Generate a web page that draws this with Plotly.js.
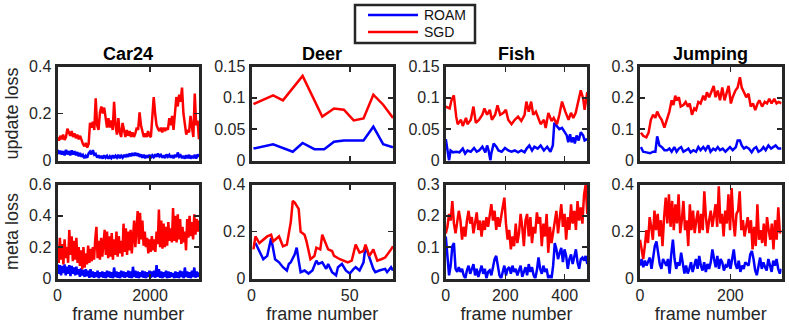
<!DOCTYPE html>
<html>
<head>
<meta charset="utf-8">
<script src="https://cdn.plot.ly/plotly-3.0.1.min.js"></script>
<style>
  html, body { margin: 0; padding: 0; background: #fff; }
  #chart { width: 789px; height: 329px; }
</style>
</head>
<body>
<div id="chart"></div>
<script>
const W = 789
const H = 329

const SEQUENCES = ['Car24', 'Deer', 'Fish', 'Jumping']
const LAST_FRAME = [3059, 72, 476, 313]
const FRAME_TICKS = [[0, 2000], [0, 50], [0, 200, 400], [0, 200]]
const UPDATE_MAX = [0.4, 0.15, 0.15, 0.3]
const UPDATE_STEP = [0.2, 0.05, 0.05, 0.1]
const META_MAX = [0.6, 0.4, 0.3, 0.4]
const META_STEP = [0.2, 0.2, 0.1, 0.2]
const METHODS = ['ROAM', 'SGD']
const METHOD_COLORS = ['#0000ff', '#ff0000']

// Car24 (sampled evenly over the sequence)
const car24UpdateRoam = [0.045, 0.028, 0.042, 0.025, 0.04, 0.022, 0.045, 0.026, 0.04, 0.022, 0.043, 0.025, 0.04, 0.022, 0.036, 0.018, 0.032, 0.016, 0.024, 0.01,
  0.02, 0.012, 0.03, 0.038, 0.026, 0.044, 0.024, 0.028, 0.012, 0.022, 0.01, 0.02, 0.008, 0.022, 0.012, 0.02, 0.008, 0.018, 0.01, 0.022,
  0.01, 0.02, 0.012, 0.024, 0.01, 0.02, 0.012, 0.024, 0.014, 0.026, 0.016, 0.03, 0.018, 0.032, 0.02, 0.033, 0.02, 0.03, 0.016, 0.026,
  0.012, 0.024, 0.01, 0.022, 0.012, 0.024, 0.01, 0.022, 0.014, 0.026, 0.016, 0.03, 0.018, 0.024, 0.012, 0.022, 0.01, 0.026, 0.016, 0.024,
  0.012, 0.022, 0.01, 0.024, 0.014, 0.034, 0.016, 0.022, 0.01, 0.02, 0.008, 0.022, 0.01, 0.024, 0.008, 0.02, 0.01, 0.024, 0.008, 0.026, 0.015]
const car24UpdateSgd = [0.098, 0.085, 0.105, 0.09, 0.11, 0.088, 0.10, 0.135, 0.12, 0.105, 0.125, 0.10, 0.115, 0.095, 0.11, 0.09, 0.105, 0.085, 0.07, 0.06,
  0.075, 0.055, 0.07, 0.16, 0.14, 0.165, 0.13, 0.265, 0.15, 0.13, 0.205, 0.23, 0.2, 0.225, 0.19, 0.14, 0.18, 0.14, 0.17, 0.13,
  0.25, 0.15, 0.11, 0.18, 0.12, 0.1, 0.16, 0.12, 0.1, 0.13, 0.105, 0.125, 0.1, 0.12, 0.1, 0.115, 0.14, 0.13, 0.205, 0.15,
  0.12, 0.1, 0.115, 0.1, 0.125, 0.105, 0.1, 0.2, 0.27, 0.2, 0.15, 0.135, 0.125, 0.14, 0.12, 0.14, 0.125, 0.14, 0.13, 0.18,
  0.15, 0.19, 0.13, 0.2, 0.27, 0.23, 0.28, 0.25, 0.31, 0.2, 0.14, 0.11, 0.13, 0.12, 0.19, 0.14, 0.1, 0.285, 0.15, 0.17, 0.09]
const car24MetaRoam = [0.09, 0.03, 0.085, 0.02, 0.08, 0.035, 0.09, 0.02, 0.075, 0.03, 0.085, 0.015, 0.08, 0.03, 0.07, 0.02, 0.075, 0.025, 0.06, 0.01,
  0.065, 0.02, 0.055, 0.01, 0.06, 0.015, 0.05, 0.005, 0.06, 0.01, 0.045, 0.005, 0.04, 0.01, 0.05, 0.0, 0.04, 0.01, 0.045, 0.005,
  0.04, 0.0, 0.05, 0.01, 0.045, 0.005, 0.04, 0.0, 0.07, 0.01, 0.045, 0.005, 0.04, 0.0, 0.05, 0.01, 0.045, 0.005, 0.04, 0.01,
  0.05, 0.005, 0.045, 0.0, 0.075, 0.01, 0.05, 0.005, 0.045, 0.0, 0.04, 0.01, 0.05, 0.005, 0.045, 0.0, 0.04, 0.01, 0.05, 0.005,
  0.045, 0.01, 0.05, 0.005, 0.085, 0.01, 0.06, 0.005, 0.045, 0.0, 0.04, 0.01, 0.05, 0.0, 0.045, 0.005, 0.04, 0.01, 0.035, 0.0,
  0.045, 0.005, 0.04, 0.0, 0.05, 0.01, 0.045, 0.0, 0.07, 0.01, 0.045, 0.005, 0.04, 0.0, 0.05, 0.01, 0.07, 0.005, 0.045, 0.01, 0.04]
const car24MetaSgd = [0.2, 0.1, 0.26, 0.12, 0.22, 0.09, 0.25, 0.13, 0.2, 0.1, 0.31, 0.15, 0.27, 0.11, 0.24, 0.12, 0.26, 0.1, 0.2, 0.08,
  0.18, 0.06, 0.2, 0.07, 0.16, 0.09, 0.21, 0.1, 0.19, 0.11, 0.2, 0.12, 0.25, 0.33, 0.13, 0.24, 0.12, 0.26, 0.14, 0.22,
  0.31, 0.15, 0.3, 0.13, 0.27, 0.14, 0.29, 0.12, 0.25, 0.15, 0.3, 0.14, 0.27, 0.16, 0.24, 0.14, 0.35, 0.17, 0.32, 0.15,
  0.3, 0.18, 0.31, 0.16, 0.28, 0.37, 0.2, 0.33, 0.43, 0.22, 0.42, 0.25, 0.37, 0.21, 0.3, 0.2, 0.26, 0.16, 0.25, 0.17,
  0.27, 0.18, 0.25, 0.17, 0.3, 0.22, 0.44, 0.2, 0.37, 0.19, 0.35, 0.2, 0.33, 0.21, 0.36, 0.24, 0.32, 0.23, 0.45, 0.24,
  0.4, 0.23, 0.41, 0.25, 0.38, 0.22, 0.33, 0.23, 0.3, 0.18, 0.38, 0.26, 0.4, 0.27, 0.36, 0.25, 0.41, 0.28, 0.38, 0.3, 0.37]

// Deer (short sequence, values every few frames)
const deerUpdateRoamFrames = [1, 11, 21, 26, 32, 37, 42, 47, 57, 62, 67, 72]
const deerUpdateRoam = [0.019, 0.026, 0.014, 0.028, 0.018, 0.018, 0.030, 0.032, 0.032, 0.054, 0.026, 0.021]
const deerUpdateSgdFrames = [1, 11, 16, 26, 36, 42, 47, 52, 57, 62, 67, 72]
const deerUpdateSgd = [0.090, 0.104, 0.096, 0.135, 0.070, 0.083, 0.081, 0.064, 0.067, 0.105, 0.089, 0.068]
const deerMetaRoamFrames = [2, 6, 8, 10, 12, 14, 16, 18, 19, 20, 22, 23, 24, 25, 27, 29, 31, 33, 34, 36,
  38, 39, 41, 43, 44, 46, 48, 50, 52, 53, 55, 57, 58, 60, 62, 63, 65, 68, 69, 71, 72]
const deerMetaRoam = [0.151, 0.082, 0.096, 0.172, 0.082, 0.069, 0.048, 0.034, 0.062, 0.069, 0.103, 0.131, 0.076, 0.027, 0.034, 0.021, 0.034, 0.076, 0.062, 0.069,
  0.041, 0.062, 0.027, 0.014, 0.048, 0.062, 0.034, 0.021, 0.041, 0.048, 0.034, 0.069, 0.137, 0.089, 0.041, 0.027, 0.034, 0.041, 0.027, 0.048, 0.034]
const deerMetaSgdFrames = [1, 2, 4, 7, 8, 10, 11, 12, 14, 16, 18, 20, 21, 22, 24, 25, 27, 28, 30, 32,
  33, 35, 36, 37, 39, 41, 42, 45, 47, 49, 51, 53, 55, 57, 58, 60, 62, 64, 66, 68, 71, 72]
const deerMetaSgd = [0.124, 0.179, 0.151, 0.172, 0.179, 0.186, 0.158, 0.165, 0.179, 0.137, 0.144, 0.241, 0.330, 0.323, 0.296, 0.199, 0.186, 0.158, 0.082, 0.096,
  0.131, 0.124, 0.186, 0.165, 0.124, 0.117, 0.096, 0.082, 0.076, 0.069, 0.076, 0.144, 0.110, 0.117, 0.144, 0.096, 0.124, 0.076, 0.082, 0.089, 0.124, 0.137]

// Fish
const fishUpdateRoamFrames = [0, 5, 11, 16, 24, 35, 46, 57, 65, 73, 84, 95, 104, 112, 123, 133, 139, 144, 150, 153,
  161, 170, 177, 188, 199, 210, 221, 232, 243, 254, 265, 272, 281, 290, 298, 309, 319, 330, 341, 352,
  360, 365, 374, 382, 391, 399, 407, 412, 418, 423, 429, 434, 440, 447, 454, 462, 467, 476]
const fishUpdateRoam = [0.034, 0.019, 0, 0.016, 0.013, 0.014, 0.013, 0.019, 0.011, 0.016, 0.014, 0.020, 0.014, 0.016, 0.022, 0.013, 0.024, 0.016, 0, 0.011,
  0.027, 0.022, 0.016, 0.014, 0.020, 0.016, 0.014, 0.016, 0.013, 0.016, 0.013, 0.019, 0.024, 0.016, 0.022, 0.019, 0.024, 0.016, 0.022, 0.014,
  0.024, 0.060, 0.055, 0.050, 0.052, 0.045, 0.040, 0.029, 0.042, 0.029, 0.037, 0.027, 0.040, 0.032, 0.045, 0.040, 0.032, 0.034]
const fishUpdateSgdFrames = [0, 13, 19, 27, 35, 40, 51, 57, 68, 73, 84, 93, 101, 112, 123, 130, 139, 148, 155, 166,
  174, 183, 194, 202, 210, 221, 232, 243, 254, 265, 271, 279, 287, 294, 303, 312, 319, 330, 336, 345,
  356, 363, 374, 382, 391, 402, 413, 421, 429, 437, 446, 454, 462, 467, 476]
const fishUpdateSgd = [0.086, 0.083, 0.096, 0.104, 0.070, 0.058, 0.065, 0.055, 0.068, 0.058, 0.065, 0.086, 0.060, 0.065, 0.073, 0.083, 0.073, 0.081, 0.065, 0.073,
  0.088, 0.073, 0.076, 0.081, 0.065, 0.058, 0.065, 0.070, 0.063, 0.073, 0.094, 0.078, 0.094, 0.073, 0.078, 0.065, 0.058, 0.065, 0.052, 0.076,
  0.063, 0.068, 0.058, 0.073, 0.094, 0.078, 0.065, 0.076, 0.068, 0.076, 0.094, 0.112, 0.099, 0.081, 0.109]
const fishMetaRoam = [0.134, 0.082, 0.010, 0.041, 0.103, 0.113, 0.031, 0.021, 0.036, 0.021, 0.031, 0.010, 0, 0.026, 0.041, 0.015, 0.031, 0.046, 0.010, 0.031,
  0.005, 0.021, 0.041, 0.015, 0.031, 0, 0.021, 0.026, 0.010, 0.036, 0.062, 0.072, 0.041, 0.010, 0, 0.026, 0.041, 0.010, 0.031, 0.036,
  0.015, 0.041, 0.021, 0.031, 0.010, 0.026, 0.041, 0.005, 0.021, 0.036, 0.010, 0.046, 0.021, 0.036, 0.010, 0, 0.026, 0.067, 0.031, 0.015,
  0.041, 0.021, 0.031, 0, 0.010, 0, 0.041, 0.113, 0.093, 0.062, 0.082, 0.098, 0.052, 0.093, 0.072, 0.031, 0.062, 0.077, 0.046, 0.072,
  0.093, 0.052, 0.031, 0.062, 0.067, 0.057, 0.072, 0.046]
const fishMetaSgd = [0.144, 0.165, 0.206, 0.185, 0.247, 0.175, 0.144, 0.175, 0.216, 0.185, 0.124, 0.165, 0.134, 0.185, 0.216, 0.175, 0.196, 0.144, 0.175, 0.211,
  0.155, 0.185, 0.134, 0.185, 0.155, 0.196, 0.165, 0.206, 0.237, 0.185, 0.216, 0.155, 0.196, 0.165, 0.196, 0.227, 0.258, 0.175, 0.124, 0.155,
  0.093, 0.134, 0.103, 0.175, 0.113, 0.144, 0.206, 0.165, 0.103, 0.185, 0.206, 0.134, 0.196, 0.113, 0.165, 0.144, 0.211, 0.175, 0.196, 0.103,
  0.175, 0.134, 0.206, 0.082, 0.165, 0.113, 0.144, 0.185, 0.216, 0.144, 0.185, 0.237, 0.165, 0.206, 0.124, 0.196, 0.155, 0.237, 0.175, 0.216,
  0.155, 0.247, 0.185, 0.227, 0.175, 0.268, 0.299, 0.206]

// Jumping
const jumpingUpdateRoamFrames = [2, 7, 14, 22, 29, 34, 38, 43, 48, 54, 60, 65, 70, 76, 81, 86, 91, 96, 102, 107,
  112, 118, 124, 129, 134, 140, 145, 151, 156, 162, 167, 172, 177, 183, 189, 194, 199, 205, 212, 216,
  221, 225, 230, 235, 241, 247, 252, 257, 262, 268, 273, 278, 284, 290, 295, 300, 306, 313]
const jumpingUpdateRoam = [0.043, 0.028, 0.026, 0.023, 0.028, 0.028, 0.077, 0.048, 0.043, 0.033, 0.033, 0.038, 0.028, 0.043, 0.028, 0.038, 0.043, 0.028, 0.033, 0.038,
  0.026, 0.033, 0.028, 0.043, 0.033, 0.043, 0.033, 0.048, 0.028, 0.038, 0.033, 0.043, 0.033, 0.038, 0.028, 0.036, 0.043, 0.033, 0.043, 0.064,
  0.064, 0.048, 0.038, 0.043, 0.038, 0.026, 0.038, 0.043, 0.028, 0.033, 0.043, 0.033, 0.048, 0.038, 0.043, 0.048, 0.038, 0.038]
const jumpingUpdateSgdFrames = [2, 7, 14, 19, 24, 29, 34, 38, 43, 48, 54, 60, 65, 70, 74, 78, 81, 86, 90, 96,
  101, 106, 110, 115, 120, 124, 129, 134, 140, 144, 148, 153, 158, 163, 167, 172, 177, 182, 187, 192,
  196, 201, 205, 211, 216, 221, 225, 230, 235, 240, 245, 250, 255, 260, 264, 270, 276, 281, 286, 291,
  297, 302, 307, 313]
const jumpingUpdateSgd = [0.089, 0.079, 0.074, 0.089, 0.130, 0.146, 0.136, 0.156, 0.141, 0.130, 0.105, 0.136, 0.156, 0.192, 0.177, 0.207, 0.192, 0.202, 0.172, 0.177,
  0.187, 0.172, 0.182, 0.146, 0.166, 0.161, 0.187, 0.182, 0.207, 0.192, 0.218, 0.202, 0.223, 0.238, 0.202, 0.223, 0.192, 0.233, 0.192, 0.223,
  0.238, 0.182, 0.202, 0.223, 0.233, 0.266, 0.233, 0.218, 0.202, 0.213, 0.172, 0.182, 0.161, 0.182, 0.192, 0.172, 0.187, 0.182, 0.197, 0.182,
  0.197, 0.182, 0.187, 0.182]
const jumpingMetaRoam = [0.055, 0.083, 0.048, 0.076, 0.055, 0.069, 0.089, 0.041, 0.083, 0.138, 0.158, 0.096, 0.062, 0.041, 0.083, 0.069, 0.055, 0.083, 0.021, 0.103,
  0.165, 0.083, 0.041, 0.069, 0.055, 0.11, 0.055, 0.021, 0.055, 0.021, 0.041, 0.069, 0.028, 0.055, 0.083, 0.041, 0.096, 0.055, 0.034, 0.069,
  0.028, 0.062, 0.041, 0.069, 0.124, 0.083, 0.048, 0.096, 0.041, 0.083, 0.069, 0.034, 0.055, 0.048, 0.083, 0.041, 0.076, 0.124, 0.062, 0.041,
  0.076, 0.028, 0.055, 0.041, 0.069, 0.062, 0.055, 0.103, 0.117, 0.083, 0.034, 0.014, 0.055, 0.089, 0.041, 0.069, 0.048, 0.034, 0.083, 0.055,
  0.028, 0.076, 0.055, 0.083, 0.041, 0.021, 0.041]
const jumpingMetaSgd = [0.165, 0.124, 0.083, 0.138, 0.206, 0.151, 0.261, 0.22, 0.165, 0.289, 0.206, 0.275, 0.179, 0.248, 0.138, 0.261, 0.344, 0.234, 0.358, 0.22,
  0.33, 0.206, 0.316, 0.234, 0.358, 0.193, 0.248, 0.33, 0.206, 0.248, 0.138, 0.316, 0.206, 0.289, 0.193, 0.248, 0.289, 0.193, 0.275, 0.206,
  0.371, 0.261, 0.193, 0.248, 0.289, 0.22, 0.261, 0.316, 0.22, 0.392, 0.234, 0.275, 0.179, 0.289, 0.234, 0.358, 0.206, 0.385, 0.248, 0.179,
  0.275, 0.289, 0.371, 0.206, 0.248, 0.179, 0.22, 0.261, 0.193, 0.248, 0.124, 0.22, 0.138, 0.316, 0.165, 0.206, 0.151, 0.234, 0.138, 0.261,
  0.206, 0.165, 0.234, 0.124, 0.248, 0.165, 0.303, 0.193, 0.206]

// frame numbers for series logged evenly over the whole sequence
const spread = (vals, last) => vals.map((_, i) => (i * last) / (vals.length - 1))

const series = [
  // [row, col, roamX, roamY, sgdX, sgdY]
  [0, 0, spread(car24UpdateRoam, 3059), car24UpdateRoam, spread(car24UpdateSgd, 3059), car24UpdateSgd],
  [0, 1, deerUpdateRoamFrames, deerUpdateRoam, deerUpdateSgdFrames, deerUpdateSgd],
  [0, 2, fishUpdateRoamFrames, fishUpdateRoam, fishUpdateSgdFrames, fishUpdateSgd],
  [0, 3, jumpingUpdateRoamFrames, jumpingUpdateRoam, jumpingUpdateSgdFrames, jumpingUpdateSgd],
  [1, 0, spread(car24MetaRoam, 3059), car24MetaRoam, spread(car24MetaSgd, 3059), car24MetaSgd],
  [1, 1, deerMetaRoamFrames, deerMetaRoam, deerMetaSgdFrames, deerMetaSgd],
  [1, 2, spread(fishMetaRoam, 476), fishMetaRoam, spread(fishMetaSgd, 476), fishMetaSgd],
  [1, 3, spread(jumpingMetaRoam, 313), jumpingMetaRoam, spread(jumpingMetaSgd, 313), jumpingMetaSgd]
]

// panel frames in page pixels (centre of the 3px box line)
const COL_LEFT = [56, 250, 444.3, 638.5]
const PANEL_W = 144.5
const ROW_TOP = [65, 183]
const PANEL_H = 97
const LW = 3

// legend box, MATLAB style (page pixels)
const LEG_BOX = {x0: 355, y0: 5, x1: 475, y1: 43}
const LEG_ROWS = [15, 32]
const LEG_LINE = [368, 418]
const LEG_TEXT_X = 422

const AXIS_COLOR = '#262626'
const FONT = 'Liberation Sans, Arial, Helvetica, sans-serif'

const px = (x) => x / W
const py = (y) => 1 - y / H

const data = []
const layout = {
  width: W,
  height: H,
  margin: {l: 0, r: 0, t: 0, b: 0},
  paper_bgcolor: '#fff',
  plot_bgcolor: '#fff',
  font: {family: FONT, size: 16, color: AXIS_COLOR},
  showlegend: false,
  annotations: [],
  shapes: [{
    type: 'rect', xref: 'paper', yref: 'paper',
    x0: px(LEG_BOX.x0), x1: px(LEG_BOX.x1), y0: py(LEG_BOX.y1), y1: py(LEG_BOX.y0),
    line: {color: AXIS_COLOR, width: 2.5}, fillcolor: '#fff'
  }]
}

METHODS.forEach((name, i) => {
  layout.shapes.push({
    type: 'line', xref: 'paper', yref: 'paper',
    x0: px(LEG_LINE[0]), x1: px(LEG_LINE[1]), y0: py(LEG_ROWS[i]), y1: py(LEG_ROWS[i]),
    line: {color: METHOD_COLORS[i], width: 2.5}
  })
  layout.annotations.push({
    text: name, xref: 'paper', yref: 'paper',
    x: px(LEG_TEXT_X), y: py(LEG_ROWS[i]),
    xanchor: 'left', yanchor: 'middle', showarrow: false,
    font: {family: FONT, size: 14, color: '#111'}
  })
})

series.forEach(([row, col, rx, ry, sx, sy]) => {
  const n = row * 4 + col + 1
  const xid = n === 1 ? 'x' : 'x' + n
  const yid = n === 1 ? 'y' : 'y' + n
  const left = COL_LEFT[col] + LW / 2
  const right = COL_LEFT[col] + PANEL_W - LW / 2
  const top = ROW_TOP[row] + LW / 2
  const bottom = ROW_TOP[row] + PANEL_H - LW / 2

  ;[[rx, ry], [sx, sy]].forEach(([x, y], m) => {
    data.push({
      x, y, xaxis: xid, yaxis: yid, type: 'scatter', mode: 'lines',
      name: METHODS[m], line: {color: METHOD_COLORS[m], width: 2.5}, hoverinfo: 'skip'
    })
  })

  const common = {
    showline: true, linewidth: LW, linecolor: AXIS_COLOR, mirror: 'ticks',
    ticks: 'inside', ticklen: 5, tickwidth: 1.5, tickcolor: AXIS_COLOR,
    showgrid: false, zeroline: false, fixedrange: true,
    tickfont: {family: FONT, size: 16, color: AXIS_COLOR}
  }
  layout[n === 1 ? 'xaxis' : 'xaxis' + n] = {
    ...common,
    domain: [px(left), px(right)],
    anchor: yid,
    range: [0, LAST_FRAME[col]],
    tickmode: 'array',
    tickvals: FRAME_TICKS[col],
    showticklabels: row === 1,
    title: row === 1 ? {text: 'frame number', font: {family: FONT, size: 18, color: AXIS_COLOR}, standoff: 4} : undefined
  }
  const ymax = row === 0 ? UPDATE_MAX[col] : META_MAX[col]
  layout[n === 1 ? 'yaxis' : 'yaxis' + n] = {
    ...common,
    domain: [py(bottom), py(top)],
    anchor: xid,
    range: [0, ymax],
    tick0: 0,
    dtick: row === 0 ? UPDATE_STEP[col] : META_STEP[col],
    title: col === 0
      ? {text: row === 0 ? 'update loss' : 'meta loss', font: {family: FONT, size: 18, color: AXIS_COLOR}, standoff: 6}
      : undefined
  }

  if (row === 0) {
    layout.annotations.push({
      text: '<b>' + SEQUENCES[col] + '</b>',
      xref: 'paper', yref: 'paper',
      x: px(COL_LEFT[col] + PANEL_W / 2), y: py(54),
      xanchor: 'center', yanchor: 'middle',
      showarrow: false,
      font: {family: FONT, size: 18, color: '#000'}
    })
  }
})

Plotly.newPlot('chart', data, layout, {staticPlot: true, displayModeBar: false})
</script>
</body>
</html>
